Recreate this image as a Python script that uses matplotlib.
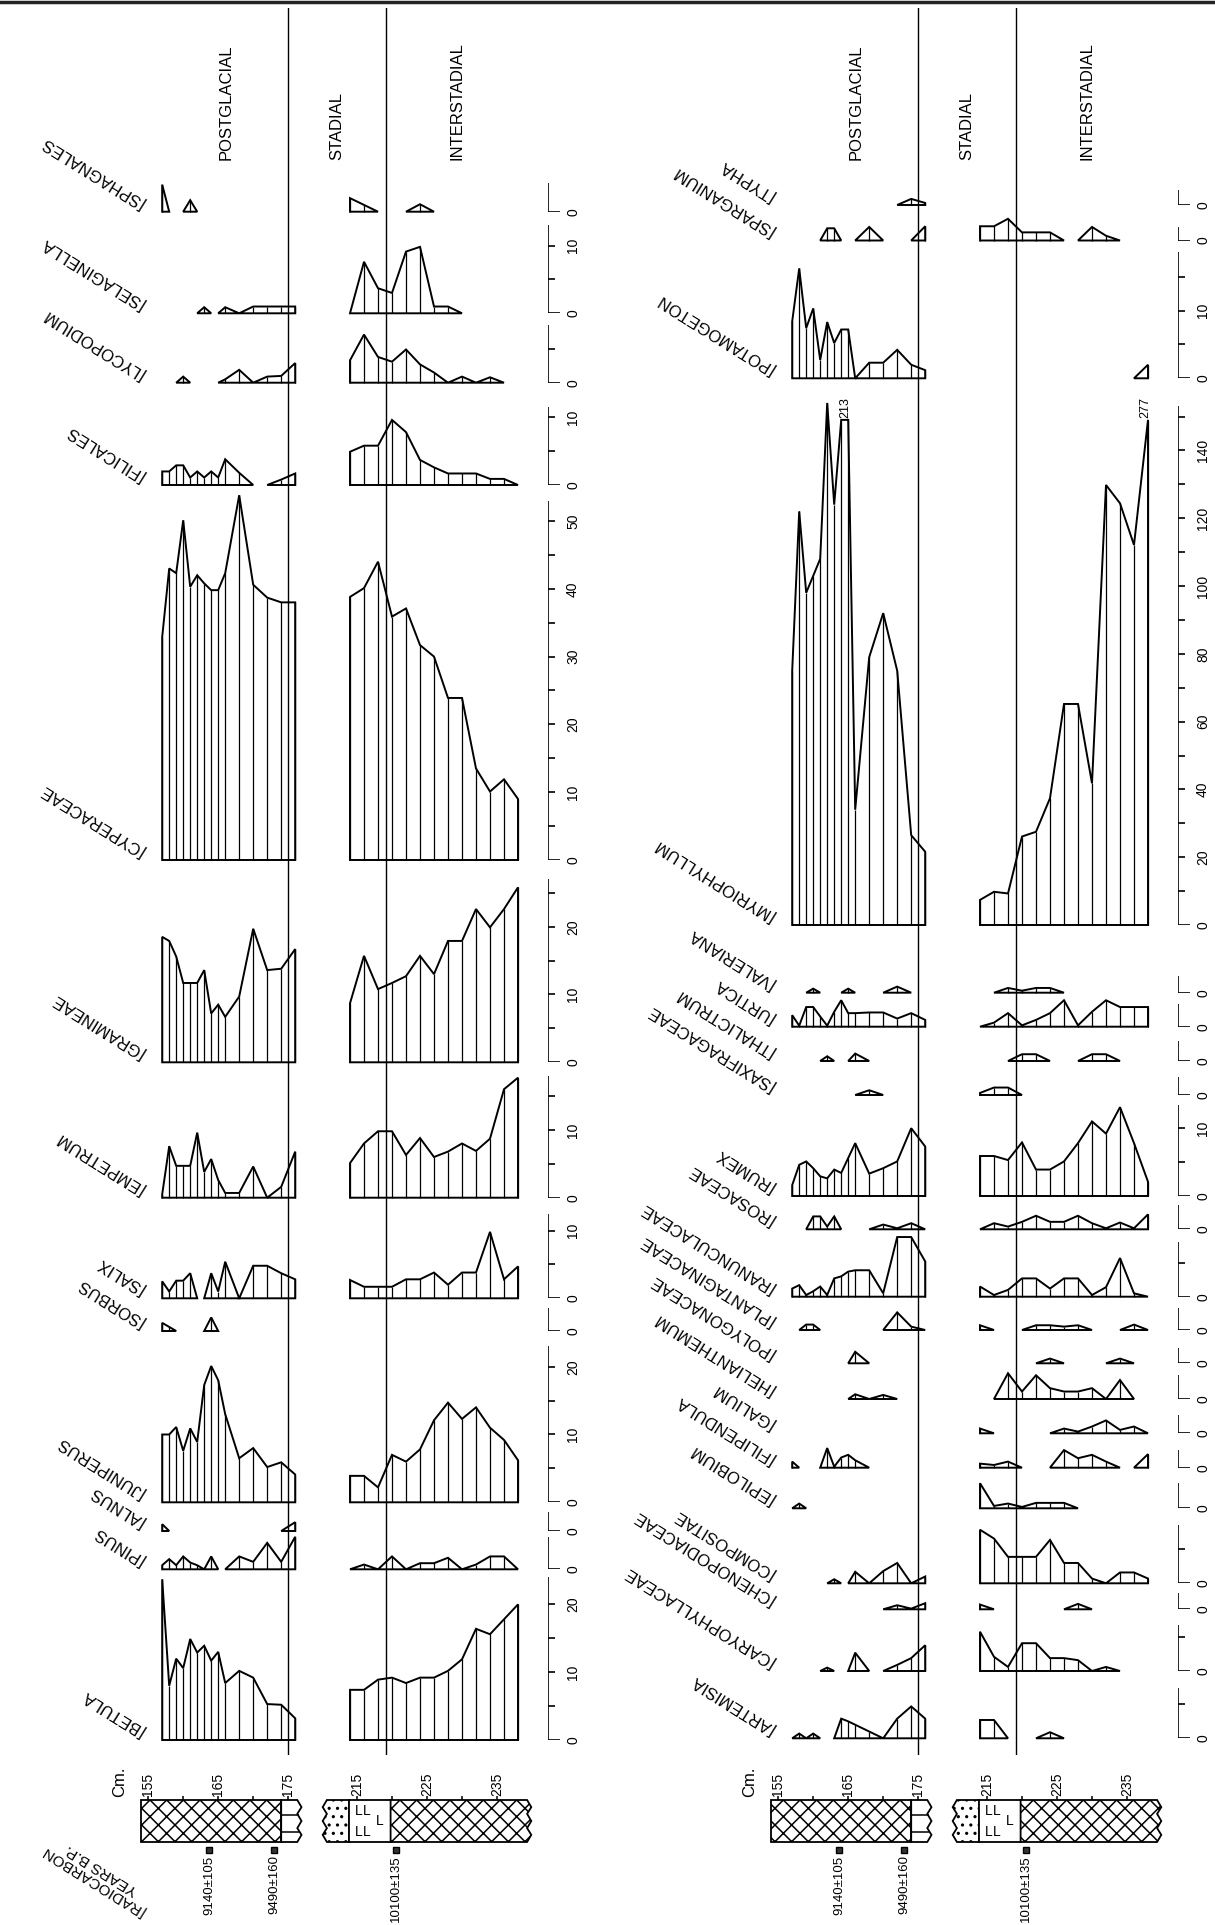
import numpy as np
import matplotlib.pyplot as plt
from matplotlib.patches import Polygon
from matplotlib.lines import Line2D

plt.rcParams['font.family'] = ['Liberation Sans', 'DejaVu Sans']
plt.rcParams['hatch.linewidth'] = 1.1
NARROW = ['Liberation Sans Narrow', 'Liberation Sans', 'DejaVu Sans']

# sample depths in cm: postglacial part and stadial/interstadial part
DEPTH_POST = [157, 158, 159, 160, 161, 162, 163, 164, 165, 166, 168, 170, 172, 174, 176]
DEPTH_INTER = [214, 216, 218, 220, 222, 224, 226, 228, 230, 232, 234, 236, 238]

# ---------- left sheet: trees, shrubs, grasses, spores (%) ----------
SPHAGNALES_POST = [4.0, 0, 0, 0, 1.7, 0, 0, 0, 0, 0, 0, 0, 0, 0, 0]
SPHAGNALES_INTER = [2.0, 1.0, 0, 0, 0, 1.1, 0, 0, 0, 0, 0, 0, 0]
SELAGINELLA_POST = [0, 0, 0, 0, 0, 0, 0.9, 0, 0, 0.9, 0, 1.0, 1.0, 1.0, 1.0]
SELAGINELLA_INTER = [0, 7.6, 3.7, 3.0, 9.1, 9.8, 1.0, 1.0, 0, 0, 0, 0, 0]
LYCOPODIUM_POST = [0, 0, 0, 0.9, 0, 0, 0, 0, 0, 0.5, 1.9, 0, 0.9, 1.0, 2.9]
LYCOPODIUM_INTER = [3.3, 7.1, 3.8, 3.1, 4.9, 2.7, 1.5, 0, 0.9, 0, 0.8, 0, 0]
FILICALES_POST = [2.0, 2.0, 2.9, 2.9, 1.1, 2.0, 1.1, 2.0, 1.1, 3.8, 1.8, 0, 0, 0.8, 1.7]
FILICALES_INTER = [4.9, 5.8, 5.8, 9.6, 7.8, 3.7, 2.6, 1.7, 1.7, 1.7, 0.9, 0.9, 0]
CYPERACEAE_POST = [32.9, 43.0, 42.3, 50.1, 40.3, 42.0, 40.8, 39.8, 39.8, 42.3, 53.8, 40.6, 38.7, 38.0, 38.0]
CYPERACEAE_INTER = [38.8, 40.1, 44.0, 35.9, 37.1, 31.7, 30.0, 23.9, 23.9, 13.5, 10.1, 11.9, 9.0]
GRAMINEAE_POST = [18.5, 17.9, 15.6, 11.7, 11.7, 11.7, 13.6, 7.2, 8.5, 6.7, 9.7, 19.7, 13.6, 13.8, 16.7]
GRAMINEAE_INTER = [8.7, 15.7, 10.8, 11.7, 12.7, 15.7, 13.0, 17.9, 17.9, 22.6, 19.9, 22.6, 25.8]
EMPETRUM_POST = [0.5, 7.6, 4.7, 4.7, 4.7, 9.6, 3.8, 5.7, 2.6, 0.7, 0.7, 4.6, 0, 1.6, 6.8]
EMPETRUM_INTER = [5.1, 8.0, 9.8, 9.8, 6.3, 8.8, 6.0, 6.8, 8.0, 6.9, 8.7, 16.0, 17.7]
SALIX_POST = [2.5, 1.0, 2.6, 2.6, 3.7, 0, 0, 3.7, 1.0, 5.4, 0, 4.8, 4.8, 3.7, 2.8]
SALIX_INTER = [2.7, 1.7, 1.7, 1.7, 2.8, 2.8, 3.8, 2.0, 3.8, 3.8, 9.8, 2.8, 4.7]
SORBUS_POST = [1.2, 0.6, 0, 0, 0, 0, 0, 2.0, 0, 0, 0, 0, 0, 0, 0]
SORBUS_INTER = [0, 0, 0, 0, 0, 0, 0, 0, 0, 0, 0, 0, 0]
JUNIPERUS_POST = [10.0, 10.0, 11.1, 7.6, 10.9, 8.9, 17.3, 20.1, 18.0, 13.0, 6.5, 8.0, 5.2, 5.9, 4.1]
JUNIPERUS_INTER = [3.9, 3.9, 2.2, 7.0, 6.0, 7.8, 12.1, 14.7, 12.3, 14.0, 11.0, 9.2, 6.2]
ALNUS_POST = [1.0, 0, 0, 0, 0, 0, 0, 0, 0, 0, 0, 0, 0, 0, 1.3]
ALNUS_INTER = [0, 0, 0, 0, 0, 0, 0, 0, 0, 0, 0, 0, 0]
PINUS_POST = [0.6, 1.5, 0.6, 1.9, 1.0, 0.6, 0, 1.9, 0, 0, 1.9, 1.1, 3.9, 1.1, 4.8]
PINUS_INTER = [0, 0.7, 0, 1.9, 0, 0.9, 0.9, 1.7, 0, 0.7, 1.9, 1.9, 0]
BETULA_POST = [23.7, 8.0, 12.0, 10.6, 14.9, 12.9, 13.9, 11.7, 13.0, 8.4, 10.2, 9.2, 5.3, 5.2, 3.2]
BETULA_INTER = [7.4, 7.4, 8.9, 9.2, 8.4, 9.2, 9.2, 10.2, 11.9, 16.4, 15.6, 17.8, 20.0]

# ---------- right sheet: aquatics and herbs (%) ----------
TYPHA_POST = [0, 0, 0, 0, 0, 0, 0, 0, 0, 0, 0, 0, 0, 0.9, 0.3]
TYPHA_INTER = [0, 0, 0, 0, 0, 0, 0, 0, 0, 0, 0, 0, 0]
SPARGANIUM_POST = [0, 0, 0, 0, 0, 1.8, 1.8, 0, 0, 0, 2.0, 0, 0, 0, 2.1]
SPARGANIUM_INTER = [2.1, 2.1, 3.2, 1.2, 1.2, 1.2, 0, 0, 2.0, 0.7, 0, 0, 0]
POTAMOGETON_POST = [8.4, 16.2, 7.4, 10.3, 2.7, 8.3, 5.2, 7.2, 7.2, 0, 2.3, 2.3, 4.2, 2.0, 1.2]
POTAMOGETON_INTER = [0, 0, 0, 0, 0, 0, 0, 0, 0, 0, 0, 0, 2.0]
MYRIOPHYLLUM_POST = [75, 122, 98, 103, 108, 154, 124, 213, 213, 34, 79, 92, 75, 26.5, 21.6]
MYRIOPHYLLUM_INTER = [7.4, 9.8, 9.3, 26.1, 27.5, 37.4, 65.2, 65.2, 41.8, 129.8, 124.4, 112.1, 277]
VALERIANA_POST = [0, 0, 0, 0.6, 0, 0, 0, 0, 0.6, 0, 0, 0, 0.9, 0, 0]
VALERIANA_INTER = [0, 0, 0.7, 0.3, 0.7, 0.7, 0, 0, 0, 0, 0, 0, 0]
URTICA_POST = [1.7, 0.15, 2.9, 2.9, 1.5, 0.15, 2.2, 3.9, 2.0, 2.0, 2.1, 2.1, 1.2, 2.0, 1.0]
URTICA_INTER = [0, 0.6, 2.0, 0.2, 1.0, 2.0, 3.9, 0.2, 2.2, 3.9, 2.9, 2.9, 2.9]
THALICTRUM_POST = [0, 0, 0, 0, 0, 0.7, 0, 0, 0, 1.1, 0, 0, 0, 0, 0]
THALICTRUM_INTER = [0, 0, 0, 1.0, 1.0, 0, 0, 0, 1.0, 1.0, 0, 0, 0]
SAXIFRAGACEAE_POST = [0, 0, 0, 0, 0, 0, 0, 0, 0, 0, 0.7, 0, 0, 0, 0]
SAXIFRAGACEAE_INTER = [0.3, 1.1, 1.1, 0, 0, 0, 0, 0, 0, 0, 0, 0, 0]
RUMEX_POST = [1.6, 4.6, 5.1, 4.1, 2.9, 2.6, 3.9, 3.4, 5.6, 7.8, 3.3, 4.1, 5.1, 10.0, 7.3]
RUMEX_INTER = [5.9, 5.9, 5.3, 7.9, 3.9, 3.9, 5.1, 7.8, 11.0, 9.2, 13.1, 7.8, 2.1]
ROSACEAE_POST = [0, 0, 0, 1.9, 1.9, 0.4, 1.9, 0, 0, 0, 0, 0.7, 0.15, 0.9, 0]
ROSACEAE_INTER = [0, 0.9, 0.4, 1.1, 2.0, 1.1, 1.1, 2.0, 0.9, 0.15, 1.0, 0.15, 2.2]
RANUNCULACEAE_POST = [1.2, 1.7, 0.25, 0.8, 1.5, 0.25, 2.7, 3.0, 3.7, 3.9, 3.9, 0.5, 8.8, 8.8, 5.2]
RANUNCULACEAE_INTER = [1.5, 0.25, 1.0, 2.7, 2.7, 1.2, 2.7, 2.7, 0.25, 1.4, 5.7, 0.5, 0]
PLANTAGINACEAE_POST = [0, 0, 0.8, 0.8, 0, 0, 0, 0, 0, 0, 0, 0, 2.6, 0.5, 0]
PLANTAGINACEAE_INTER = [0.7, 0, 0, 0, 0.7, 0.7, 0.5, 0.7, 0, 0, 0, 0.8, 0]
POLYGONACEAE_POST = [0, 0, 0, 0, 0, 0, 0, 0, 0, 1.7, 0, 0, 0, 0, 0]
POLYGONACEAE_INTER = [0, 0, 0, 0, 0, 0.7, 0, 0, 0, 0, 0.7, 0, 0]
HELIANTHEMUM_POST = [0, 0, 0, 0, 0, 0, 0, 0, 0, 0.7, 0, 0.6, 0, 0, 0]
HELIANTHEMUM_INTER = [0, 0, 3.8, 1.1, 3.5, 1.6, 1.1, 1.1, 1.6, 0, 2.8, 0, 0]
GALIUM_POST = [0, 0, 0, 0, 0, 0, 0, 0, 0, 0, 0, 0, 0, 0, 0]
GALIUM_INTER = [0.7, 0, 0, 0, 0, 0, 0.7, 0.25, 1.0, 1.9, 0.5, 1.0, 0]
FILIPENDULA_POST = [0.9, 0, 0, 0, 0, 2.9, 0.15, 1.5, 1.9, 1.1, 0, 0, 0, 0, 0]
FILIPENDULA_INTER = [0.6, 0.4, 0.9, 0, 0, 0, 2.6, 1.4, 1.9, 0.9, 0, 0, 2.0]
EPILOBIUM_POST = [0, 0.7, 0, 0, 0, 0, 0, 0, 0, 0, 0, 0, 0, 0, 0]
EPILOBIUM_INTER = [3.7, 0.35, 0.7, 0.2, 0.8, 0.8, 0.8, 0, 0, 0, 0, 0, 0]
COMPOSITAE_POST = [0, 0, 0, 0, 0, 0, 0.6, 0, 0, 1.7, 0, 1.8, 3.0, 0, 1.0]
COMPOSITAE_INTER = [7.9, 6.6, 3.9, 3.9, 3.9, 6.4, 3.0, 3.0, 0.7, 0, 1.6, 1.6, 0.7]
CHENOPODIACEAE_POST = [0, 0, 0, 0, 0, 0, 0, 0, 0, 0, 0, 0, 0.6, 0.1, 0.9]
CHENOPODIACEAE_INTER = [0.7, 0, 0, 0, 0, 0, 0, 0.8, 0, 0, 0, 0, 0]
CARYOPHYLLACEAE_POST = [0, 0, 0, 0, 0, 0.5, 0, 0, 0, 2.7, 0, 0, 0.9, 1.9, 3.8]
CARYOPHYLLACEAE_INTER = [5.8, 2.1, 0.6, 4.1, 4.1, 1.9, 1.9, 1.6, 0, 0.6, 0, 0, 0]
ARTEMISIA_POST = [0, 0.7, 0, 0.7, 0, 0, 0, 2.9, 2.5, 2.0, 1.0, 0, 2.9, 4.7, 2.9]
ARTEMISIA_INTER = [2.7, 2.7, 0, 0, 0, 0.9, 0, 0, 0, 0, 0, 0, 0]

LEFT_NAMES = ['SPHAGNALES', 'SELAGINELLA', 'LYCOPODIUM', 'FILICALES', 'CYPERACEAE',
              'GRAMINEAE', 'EMPETRUM', 'SALIX', 'SORBUS', 'JUNIPERUS', 'ALNUS', 'PINUS', 'BETULA']
LEFT_DATA = [(SPHAGNALES_POST, SPHAGNALES_INTER), (SELAGINELLA_POST, SELAGINELLA_INTER),
             (LYCOPODIUM_POST, LYCOPODIUM_INTER), (FILICALES_POST, FILICALES_INTER),
             (CYPERACEAE_POST, CYPERACEAE_INTER), (GRAMINEAE_POST, GRAMINEAE_INTER),
             (EMPETRUM_POST, EMPETRUM_INTER), (SALIX_POST, SALIX_INTER), (SORBUS_POST, SORBUS_INTER),
             (JUNIPERUS_POST, JUNIPERUS_INTER), (ALNUS_POST, ALNUS_INTER), (PINUS_POST, PINUS_INTER),
             (BETULA_POST, BETULA_INTER)]
# scale bar: (bar top, unlabelled ticks, labelled ticks)
LEFT_SCALES = [(4.2, [], [0]), (13, [5], [0, 10]), (8.5, [5], [0]), (11.5, [5], [0, 10]),
               (53, [5, 15, 25, 35, 45], [0, 10, 20, 30, 40, 50]), (27, [5, 15, 25], [0, 10, 20]),
               (18, [5, 15], [0, 10]), (12.5, [5], [0, 10]), (3.4, [], [0]),
               (23, [5, 15], [0, 10, 20]), (2.8, [], [0]), (4.7, [], [0]), (24, [5, 15], [0, 10, 20])]

RIGHT_NAMES = ['TYPHA', 'SPARGANIUM', 'POTAMOGETON', 'MYRIOPHYLLUM', 'VALERIANA', 'URTICA',
               'THALICTRUM', 'SAXIFRAGACEAE', 'RUMEX', 'ROSACEAE', 'RANUNCULACEAE',
               'PLANTAGINACEAE', 'POLYGONACEAE', 'HELIANTHEMUM', 'GALIUM', 'FILIPENDULA',
               'EPILOBIUM', 'COMPOSITAE', 'CHENOPODIACEAE', 'CARYOPHYLLACEAE', 'ARTEMISIA']
RIGHT_DATA = [(TYPHA_POST, TYPHA_INTER), (SPARGANIUM_POST, SPARGANIUM_INTER),
              (POTAMOGETON_POST, POTAMOGETON_INTER), (MYRIOPHYLLUM_POST, MYRIOPHYLLUM_INTER),
              (VALERIANA_POST, VALERIANA_INTER), (URTICA_POST, URTICA_INTER),
              (THALICTRUM_POST, THALICTRUM_INTER), (SAXIFRAGACEAE_POST, SAXIFRAGACEAE_INTER),
              (RUMEX_POST, RUMEX_INTER), (ROSACEAE_POST, ROSACEAE_INTER),
              (RANUNCULACEAE_POST, RANUNCULACEAE_INTER), (PLANTAGINACEAE_POST, PLANTAGINACEAE_INTER),
              (POLYGONACEAE_POST, POLYGONACEAE_INTER), (HELIANTHEMUM_POST, HELIANTHEMUM_INTER),
              (GALIUM_POST, GALIUM_INTER), (FILIPENDULA_POST, FILIPENDULA_INTER),
              (EPILOBIUM_POST, EPILOBIUM_INTER), (COMPOSITAE_POST, COMPOSITAE_INTER),
              (CHENOPODIACEAE_POST, CHENOPODIACEAE_INTER), (CARYOPHYLLACEAE_POST, CARYOPHYLLACEAE_INTER),
              (ARTEMISIA_POST, ARTEMISIA_INTER)]
RIGHT_SCALES = [(2.2, [], [0]), (2.0, [], [0]), (18.7, [5, 15], [0, 10]),
                (153, [10, 30, 50, 70, 90, 110, 130, 150], [0, 20, 40, 60, 80, 100, 120, 140]),
                (2.4, [], [0]), (3.4, [], [0]), (2.9, [], [0]), (2.7, [], [0]),
                (13.4, [5], [0, 10]), (3.6, [], [0]), (8.1, [5], [0]), (3.2, [], [0]),
                (2.2, [], [0]), (3.5, [], [0]), (2.7, [], [0]), (2.6, [], [0]), (3.7, [], [0]),
                (8.6, [5], [0]), (2.4, [], [0]), (6.8, [5], [0]), (7.4, [5], [0])]

RADIOCARBON = ['9140±105', '9490±160', '10100±135']
RADIOCARBON_DEPTH = [163.7, 173.0, 220.5]
ZONE_DEPTHS = [174.9, 219.2]
ZONE_NAMES = ['POSTGLACIAL', 'STADIAL', 'INTERSTADIAL']

# ---------- layout (pixels of the 1215 x 1925 page) ----------
W, H = 1215, 1925
PPC = 7.0       # px per cm of depth
PPU = 6.78      # px per percent
SECTIONS = {'post': (157, 162.2, 153.5, 178.0), 'inter': (214, 350.0, 209.5, 241.5)}
LEFT_BASE = [211.7, 313.3, 382.7, 485, 860, 1062.3, 1197.7, 1298.3, 1331, 1502.3, 1531, 1569.3, 1740]
RIGHT_BASE = [205, 240.5, 378.3, 925, 992.7, 1026.7, 1061, 1095, 1196, 1229.3, 1296.7, 1330,
              1363.3, 1399, 1433.3, 1467.7, 1508.3, 1583.3, 1609.3, 1671, 1738.3]
SHEET_DX = 630
LABEL_X = 139
SCALE_X = 548
ZONE_LABEL_X = [225.8, 336.7, 457.3]
ZONE_LABEL_BOTTOM = 160
LITH_TOP, LITH_BOT = 1800, 1842
CAP = 149

fig = plt.figure(figsize=(W / 100, H / 100), dpi=100)
fig.patch.set_facecolor('white')


def px_axes(x, y_top, w, h):
    ax = fig.add_axes([x / W, 1 - (y_top + h) / H, w / W, h / H])
    ax.axis('off')
    return ax


def section_axes(dx, sec, y_top, h):
    d0, x0, lo, hi = SECTIONS[sec]
    ax = px_axes(x0 + dx + (lo - d0) * PPC, y_top, (hi - lo) * PPC, h)
    ax.set_xlim(lo, hi)
    return ax


def draw_curve(ax, depths, values):
    d = np.asarray(depths, float)
    v = np.asarray(values, float)
    n = len(v)
    i = 0
    while i < n:
        if v[i] <= 0:
            i += 1
            continue
        j = i
        while j + 1 < n and v[j + 1] > 0:
            j += 1
        xs = [d[i - 1] if i > 0 else d[i]] + list(d[i:j + 1]) + [d[j + 1] if j < n - 1 else d[j]]
        ys = [0] + list(v[i:j + 1]) + [0]
        ax.add_patch(Polygon(np.column_stack([xs, ys]), closed=True, fc='none',
                             ec='black', lw=1.4, joinstyle='miter', clip_on=False))
        ax.vlines(d[i:j + 1], 0, v[i:j + 1], color='black', lw=0.9, clip_on=False)
        i = j + 1


def draw_sheet(dx, names, data, scales, bases, with_years_label):
    for name, (post, inter), (stop, minor, major), base in zip(names, data, scales, bases):
        ppu = PPU / 2 if name == 'MYRIOPHYLLUM' else PPU
        top = max(max(post), max(inter), stop) * 1.05 + 1
        if name == 'MYRIOPHYLLUM':
            top = 165
        for sec, depths, vals in (('post', DEPTH_POST, post), ('inter', DEPTH_INTER, inter)):
            ax = section_axes(dx, sec, base - top * ppu, top * ppu)
            ax.set_ylim(0, top)
            shown = np.where(np.asarray(vals, float) > 200, CAP, vals)
            draw_curve(ax, depths, shown)
            for d, v in zip(depths, vals):
                if v > 200:
                    ax.text(d + 0.6 if sec == 'post' else d - 0.4, CAP + 0.5, '%d' % v,
                            rotation=90, ha='center', va='bottom', fontsize=9, family=NARROW)
                    break
        # scale bar
        sax = px_axes(SCALE_X + dx, base - top * ppu, 40, top * ppu)
        sax.set_xlim(0, 40)
        sax.set_ylim(0, top)
        sax.vlines(0, 0, stop, color='black', lw=1.2)
        sax.hlines(0, 0, 12, color='black', lw=1.2)
        sax.hlines([t for t in minor + major if t > 0], 0, 7, color='black', lw=1.2)
        for t in major:
            sax.text(25, t, str(t), rotation=90, ha='center', va='center', fontsize=10,
                     family=NARROW)
        # taxon label, written on the slant like the original
        fig.text((LABEL_X + dx) / W, 1 - (base - 2) / H, '⌈' + name, rotation=148,
                 rotation_mode='anchor', ha='left', va='top', fontsize=12)

    # zone labels
    for x, zname in zip(ZONE_LABEL_X, ZONE_NAMES):
        fig.text((x + dx) / W, 1 - ZONE_LABEL_BOTTOM / H, zname, rotation=90, ha='center',
                 va='bottom', fontsize=12)

    # lithology strip, depth scale and radiocarbon dates
    for sec, ticks, labelled in (('post', [155, 160, 165, 170, 175], [155, 165, 175]),
                                 ('inter', [215, 220, 225, 230, 235], [215, 225, 235])):
        ax = section_axes(dx, sec, LITH_TOP, LITH_BOT - LITH_TOP)
        ax.set_ylim(0, 1)
        zig = [1, 0.83, 0.67, 0.5, 0.33, 0.17, 0]
        if sec == 'post':
            ax.add_patch(Polygon([(153.9, 0), (174.0, 0), (174.0, 1), (153.9, 1)], fc='white',
                                 ec='black', hatch='xx', lw=1.3, clip_on=False))
            right = [(176.9 if k % 2 else 176.3, y) for k, y in enumerate(zig)]
            ax.add_patch(Polygon([(174.0, 1)] + right + [(174.0, 0)], fc='white', ec='black',
                                 lw=1.3, clip_on=False))
            ax.hlines([0.64, 0.25], 174.0, 176.6, color='black', lw=1.1)
        else:
            left = [(210.1 if k % 2 else 210.7, y) for k, y in enumerate(zig)]
            ax.add_patch(Polygon(left[::-1] + [(213.9, 1), (213.9, 0)], fc='white', ec='black',
                                 hatch='..', lw=1.3, clip_on=False))
            ax.add_patch(Polygon([(213.9, 0), (219.8, 0), (219.8, 1), (213.9, 1)], fc='white',
                                 ec='black', lw=1.3, clip_on=False))
            for lx, ly in [(215.2, 0.74), (216.4, 0.74), (218.3, 0.5), (215.2, 0.25), (216.4, 0.25)]:
                ax.text(lx, ly, 'L', ha='center', va='center', fontsize=10)
            right = [(239.9 if k % 2 else 239.3, y) for k, y in enumerate(zig)]
            ax.add_patch(Polygon([(219.8, 0), (219.8, 1)] + right, fc='white', ec='black',
                                 hatch='xx', lw=1.3, clip_on=False))
        ax.vlines(ticks, 1, 1.1, color='black', lw=1.1, clip_on=False)
        for t in labelled:
            ax.text(t, 1.1, str(t), rotation=90, ha='center', va='bottom', fontsize=10,
                    family=NARROW)
        for date, d in zip(RADIOCARBON, RADIOCARBON_DEPTH):
            if SECTIONS[sec][2] < d < SECTIONS[sec][3]:
                ax.plot([d], [-0.19], marker='s', ms=5, mfc='#333333', mec='black', clip_on=False)
                ax.text(d, -0.32, date, rotation=90, ha='center', va='top', fontsize=9.5,
                        family=NARROW)
    fig.text((120 + dx) / W, 1 - 1782 / H, 'Cm.', rotation=90, ha='center', va='center', fontsize=12)
    if with_years_label:
        fig.text((140 + dx) / W, 1 - 1918 / H, '⌈RADIOCARBON\n    YEARS B.P.', rotation=148,
                 rotation_mode='anchor', ha='left', va='top', fontsize=11, linespacing=1.0)

    # zone boundaries drawn last so that they run over the curves
    for sec, zd in (('post', ZONE_DEPTHS[0]), ('inter', ZONE_DEPTHS[1])):
        ax = section_axes(dx, sec, 8, 1755 - 8)
        ax.set_ylim(0, 1)
        ax.axvline(zd, color='black', lw=1.0)


draw_sheet(0, LEFT_NAMES, LEFT_DATA, LEFT_SCALES, LEFT_BASE, True)
draw_sheet(SHEET_DX, RIGHT_NAMES, RIGHT_DATA, RIGHT_SCALES, RIGHT_BASE, False)

fig.add_artist(Line2D([0, 1], [1 - 1.5 / H] * 2, color='#222222', lw=2.5))

fig.savefig('out.png', dpi=100)
